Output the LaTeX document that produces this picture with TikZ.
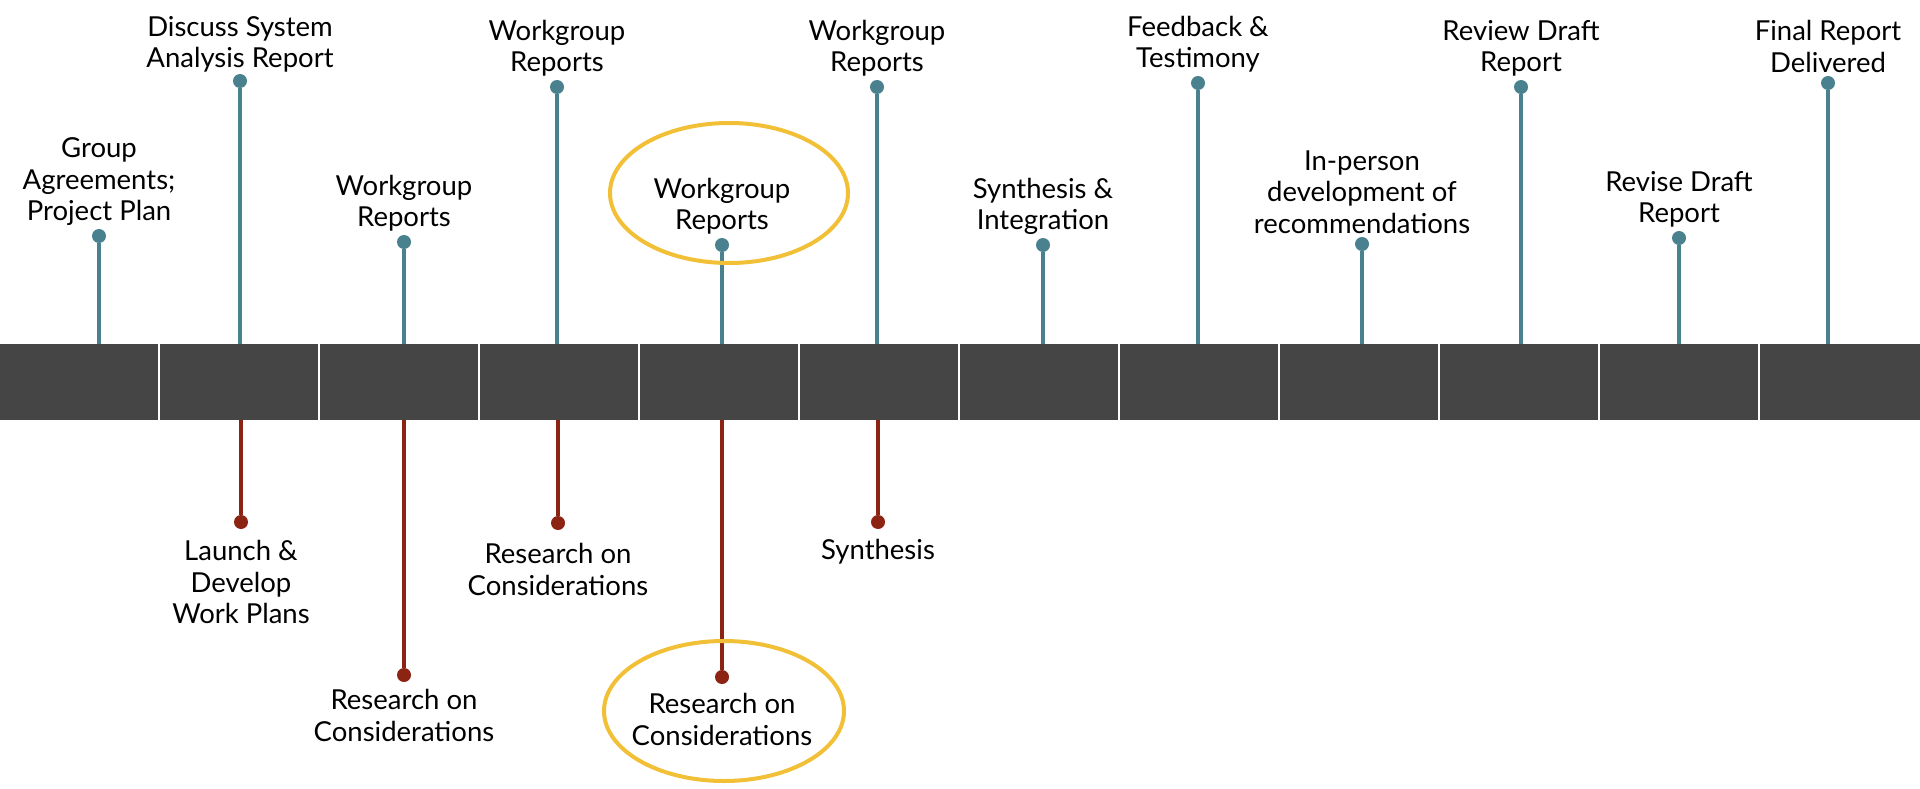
\documentclass[tikz,border=0pt]{standalone}
\usepackage{fontspec}
\setmainfont{Lato}
\usetikzlibrary{positioning}
\definecolor{teal}{RGB}{74,129,143}
\definecolor{rust}{RGB}{140,36,20}
\definecolor{slab}{RGB}{69,69,69}
\definecolor{gold}{RGB}{242,192,55}
\tikzset{x=1pt, y=-1pt, node distance=3pt,
  month/.style={fill=slab, minimum width=158pt, minimum height=76pt, inner sep=0pt, anchor=north west},
  updot/.style={circle, fill=teal, minimum size=14pt, inner sep=0pt},
  downdot/.style={circle, fill=rust, minimum size=14pt, inner sep=0pt},
  upline/.style={draw=teal, line width=4pt},
  downline/.style={draw=rust, line width=4pt},
  lbl/.style={align=center, inner sep=0pt, font=\fontsize{27.5}{31.5}\selectfont},
  hilite/.style={draw=gold, line width=4pt}}

\begin{document}
\begin{tikzpicture}
  \useasboundingbox (0,0) rectangle (1920,789);
  % months
  \node[month] (m1)  at (0,344)    {};
  \node[month] (m2)  at (160,344)  {};
  \node[month] (m3)  at (320,344)  {};
  \node[month] (m4)  at (480,344)  {};
  \node[month] (m5)  at (640,344)  {};
  \node[month] (m6)  at (800,344)  {};
  \node[month] (m7)  at (960,344)  {};
  \node[month] (m8)  at (1120,344) {};
  \node[month] (m9)  at (1280,344) {};
  \node[month] (m10) at (1440,344) {};
  \node[month] (m11) at (1600,344) {};
  \node[month,minimum width=160pt] (m12) at (1760,344) {};

  % above the bar
  \node[updot] (u1)  at (99,236)   {};
  \node[updot] (u2)  at (240,81)   {};
  \node[updot] (u3)  at (404,242)  {};
  \node[updot] (u4)  at (557,87)   {};
  \node[updot] (u5)  at (722,245)  {};
  \node[updot] (u6)  at (877,87)   {};
  \node[updot] (u7)  at (1043,245) {};
  \node[updot] (u8)  at (1198,83)  {};
  \node[updot] (u9)  at (1362,244) {};
  \node[updot] (u10) at (1521,87)  {};
  \node[updot] (u11) at (1679,238) {};
  \node[updot] (u12) at (1828,83)  {};

  \draw[upline] (u1)  -- (u1 |- m1.north);
  \draw[upline] (u2)  -- (u2 |- m2.north);
  \draw[upline] (u3)  -- (u3 |- m3.north);
  \draw[upline] (u4)  -- (u4 |- m4.north);
  \draw[upline] (u5)  -- (u5 |- m5.north);
  \draw[upline] (u6)  -- (u6 |- m6.north);
  \draw[upline] (u7)  -- (u7 |- m7.north);
  \draw[upline] (u8)  -- (u8 |- m8.north);
  \draw[upline] (u9)  -- (u9 |- m9.north);
  \draw[upline] (u10) -- (u10 |- m10.north);
  \draw[upline] (u11) -- (u11 |- m11.north);
  \draw[upline] (u12) -- (u12 |- m12.north);

  \node[lbl, above=of u1]  (t1)  {Group\\Agreements;\\Project Plan};
  \node[lbl, above=1pt of u2]  (t2)  {Discuss System\\Analysis Report};
  \node[lbl, above=of u3]  (t3)  {Workgroup\\Reports};
  \node[lbl, above=of u4]  (t4)  {Workgroup\\Reports};
  \node[lbl, above=of u5]  (t5)  {Workgroup\\Reports};
  \node[lbl, above=of u6]  (t6)  {Workgroup\\Reports};
  \node[lbl, above=of u7]  (t7)  {Synthesis \&\\Integration};
  \node[lbl, above=of u8]  (t8)  {Feedback \&\\Testimony};
  \node[lbl, above=of u9]  (t9)  {In-person\\development of\\recommendations};
  \node[lbl, above=of u10] (t10) {Review Draft\\Report};
  \node[lbl, above=of u11] (t11) {Revise Draft\\Report};
  \node[lbl, above=of u12] (t12) {Final Report\\Delivered};

  % below the bar
  \node[downdot] (d1) at (241,522) {};
  \node[downdot] (d2) at (404,675) {};
  \node[downdot] (d3) at (558,523) {};
  \node[downdot] (d4) at (722,677) {};
  \node[downdot] (d5) at (878,522) {};

  \draw[downline] (d1) -- (d1 |- m2.south);
  \draw[downline] (d2) -- (d2 |- m3.south);
  \draw[downline] (d3) -- (d3 |- m4.south);
  \draw[downline] (d4) -- (d4 |- m5.south);
  \draw[downline] (d5) -- (d5 |- m6.south);

  \node[lbl, below=11pt of d1] (s1) {Launch \&\\Develop\\Work Plans};
  \node[lbl, below=7pt of d2]  (s2) {Research on\\Considerations};
  \node[lbl, below=13pt of d3] (s3) {Research on\\Considerations};
  \node[lbl, below=9pt of d4]  (s4) {Research on\\Considerations};
  \node[lbl, below=10pt of d5] (s5) {Synthesis};

  % highlights
  \draw[hilite] (729,193) ellipse [x radius=119, y radius=70];
  \draw[hilite] (724,711) ellipse [x radius=120, y radius=70];
\end{tikzpicture}
\end{document}
